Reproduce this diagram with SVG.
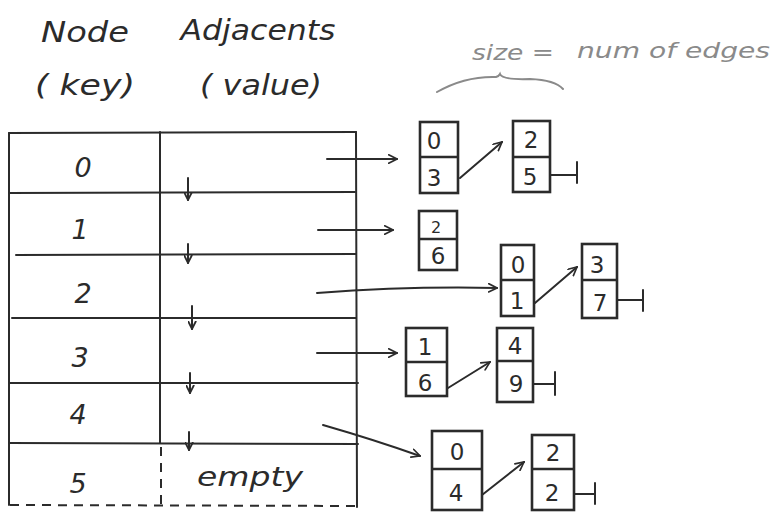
<svg xmlns="http://www.w3.org/2000/svg" width="774" height="512" viewBox="0 0 774 512">
<style>
.ln{stroke:#2b2b2b;stroke-width:2;fill:none;stroke-linecap:round}
.dash{stroke:#2b2b2b;stroke-width:2;fill:none;stroke-dasharray:9 7}
.box{stroke:#2b2b2b;stroke-width:2.6;fill:#fff}
.t{font-family:"DejaVu Sans","Liberation Sans",sans-serif;fill:#2b2b2b;text-anchor:middle}
.h{font-size:28px;font-style:italic}
.k{font-size:27px;font-style:italic}
.d{font-size:23px}
.g{font-family:"DejaVu Sans","Liberation Sans",sans-serif;fill:#8a8a8a;font-size:22px;font-style:italic}
</style>
<defs>
<marker id="ah" viewBox="0 0 12 12" refX="11" refY="6" markerWidth="10" markerHeight="10" markerUnits="userSpaceOnUse" orient="auto">
<path d="M1,1 L11,6 L1,11" fill="none" stroke="#2b2b2b" stroke-width="2" stroke-linecap="round"/>
</marker>
<marker id="sa" viewBox="0 0 12 12" refX="11" refY="6" markerWidth="9" markerHeight="9" markerUnits="userSpaceOnUse" orient="auto">
<path d="M1,1 L11,6 L1,11" fill="none" stroke="#2b2b2b" stroke-width="2.4" stroke-linecap="round"/>
</marker>
</defs>
<rect width="774" height="512" fill="#fff"/>

<g id="headers">
<text class="t h" x="85" y="42" textLength="88" lengthAdjust="spacingAndGlyphs">Node</text>
<text class="t h" x="258" y="40" textLength="155" lengthAdjust="spacingAndGlyphs">Adjacents</text>
<text class="t h" x="85" y="95" textLength="100" lengthAdjust="spacingAndGlyphs">( key)</text>
<text class="t h" x="261" y="95" textLength="122" lengthAdjust="spacingAndGlyphs">( value)</text>
</g>

<g id="note">
<text class="g" x="472" y="60" textLength="82" lengthAdjust="spacingAndGlyphs">size =</text>
<text class="g" x="577" y="58" textLength="193" lengthAdjust="spacingAndGlyphs">num of edges</text>
<path d="M437,92 Q465,76 496,77 Q499,76 500,74 Q502,80 530,79 Q555,80 563,89" fill="none" stroke="#8a8a8a" stroke-width="2" stroke-linecap="round"/>
</g>

<g id="table">
<line class="ln" x1="9" y1="133" x2="356" y2="132"/>
<line class="ln" x1="9" y1="133" x2="9" y2="505"/>
<line class="ln" x1="356" y1="132" x2="357" y2="507"/>
<line class="ln" x1="160" y1="132" x2="160" y2="443"/>
<line class="dash" x1="161" y1="447" x2="161" y2="505"/>
<line class="ln" x1="9" y1="193" x2="355" y2="192"/>
<line class="ln" x1="16" y1="255" x2="356" y2="254"/>
<line class="ln" x1="12" y1="318" x2="356" y2="318"/>
<line class="ln" x1="10" y1="383" x2="358" y2="383"/>
<line class="ln" x1="9" y1="443" x2="358" y2="444"/>
<line class="dash" x1="10" y1="505" x2="358" y2="506"/>
<text class="t k" x="83" y="177">0</text>
<text class="t k" x="80" y="239">1</text>
<text class="t k" x="83" y="303">2</text>
<text class="t k" x="80" y="367">3</text>
<text class="t k" x="78" y="424">4</text>
<text class="t k" x="78" y="493">5</text>
<text class="t k" x="250" y="486" textLength="106" lengthAdjust="spacingAndGlyphs">empty</text>
<line class="ln" x1="188" y1="178" x2="188" y2="200" marker-end="url(#sa)"/>
<line class="ln" x1="188" y1="244" x2="188" y2="263" marker-end="url(#sa)"/>
<line class="ln" x1="192" y1="306" x2="192" y2="329" marker-end="url(#sa)"/>
<line class="ln" x1="190" y1="373" x2="190" y2="393" marker-end="url(#sa)"/>
<line class="ln" x1="189" y1="432" x2="189" y2="450" marker-end="url(#sa)"/>
</g>

<g id="connectors">
<line class="ln" x1="327" y1="159" x2="397" y2="159" marker-end="url(#ah)"/>
<line class="ln" x1="318" y1="230" x2="393" y2="230" marker-end="url(#ah)"/>
<path class="ln" d="M317,293 Q410,286 497,288" marker-end="url(#ah)"/>
<line class="ln" x1="317" y1="353" x2="397" y2="353" marker-end="url(#ah)"/>
<path class="ln" d="M323,425 Q375,440 420,456" marker-end="url(#ah)"/>
<line class="ln" x1="460" y1="178" x2="502" y2="142" marker-end="url(#ah)"/>
<line class="ln" x1="535" y1="303" x2="577" y2="267" marker-end="url(#ah)"/>
<line class="ln" x1="448" y1="388" x2="490" y2="362" marker-end="url(#ah)"/>
<line class="ln" x1="482" y1="495" x2="524" y2="462" marker-end="url(#ah)"/>
<path class="ln" d="M550,175 H577 M577,162 V183"/>
<path class="ln" d="M617,300 H643 M643,290 V311"/>
<path class="ln" d="M533,384 H555 M555,372 V395"/>
<path class="ln" d="M574,494 H595 M595,483 V504"/>
</g>

<g id="nA">
<rect class="box" x="420" y="122" width="38" height="71"/>
<line class="box" x1="420" y1="157" x2="458" y2="157"/>
<text class="t d" x="434" y="149">0</text>
<text class="t d" x="434" y="186">3</text>
</g>
<g id="nB">
<rect class="box" x="513" y="121" width="37" height="71"/>
<line class="box" x1="513" y1="157" x2="550" y2="157"/>
<text class="t d" x="531" y="148">2</text>
<text class="t d" x="530" y="185">5</text>
</g>
<g id="nC">
<rect class="box" x="419" y="211" width="38" height="59"/>
<line class="box" x1="419" y1="239" x2="457" y2="239"/>
<text class="t" style="font-size:16px" x="436" y="233">2</text>
<text class="t d" x="438" y="264">6</text>
</g>
<g id="nD">
<rect class="box" x="501" y="245" width="33" height="71"/>
<line class="box" x1="501" y1="280" x2="534" y2="280"/>
<text class="t d" x="518" y="273">0</text>
<text class="t d" x="517" y="309">1</text>
</g>
<g id="nE">
<rect class="box" x="582" y="244" width="35" height="74"/>
<line class="box" x1="582" y1="280" x2="617" y2="280"/>
<text class="t d" x="597" y="273">3</text>
<text class="t d" x="600" y="311">7</text>
</g>
<g id="nF">
<rect class="box" x="406" y="328" width="41" height="68"/>
<line class="box" x1="406" y1="362" x2="447" y2="362"/>
<text class="t d" x="425" y="355">1</text>
<text class="t d" x="425" y="391">6</text>
</g>
<g id="nG">
<rect class="box" x="497" y="328" width="36" height="74"/>
<line class="box" x1="497" y1="361" x2="533" y2="361"/>
<text class="t d" x="515" y="354">4</text>
<text class="t d" x="516" y="392">9</text>
</g>
<g id="nH">
<rect class="box" x="432" y="431" width="50" height="79"/>
<line class="box" x1="432" y1="469" x2="482" y2="469"/>
<text class="t d" x="457" y="460">0</text>
<text class="t d" x="456" y="501">4</text>
</g>
<g id="nI">
<rect class="box" x="532" y="435" width="42" height="75"/>
<line class="box" x1="532" y1="469" x2="574" y2="469"/>
<text class="t d" x="553" y="461">2</text>
<text class="t d" x="552" y="501">2</text>
</g>
</svg>
